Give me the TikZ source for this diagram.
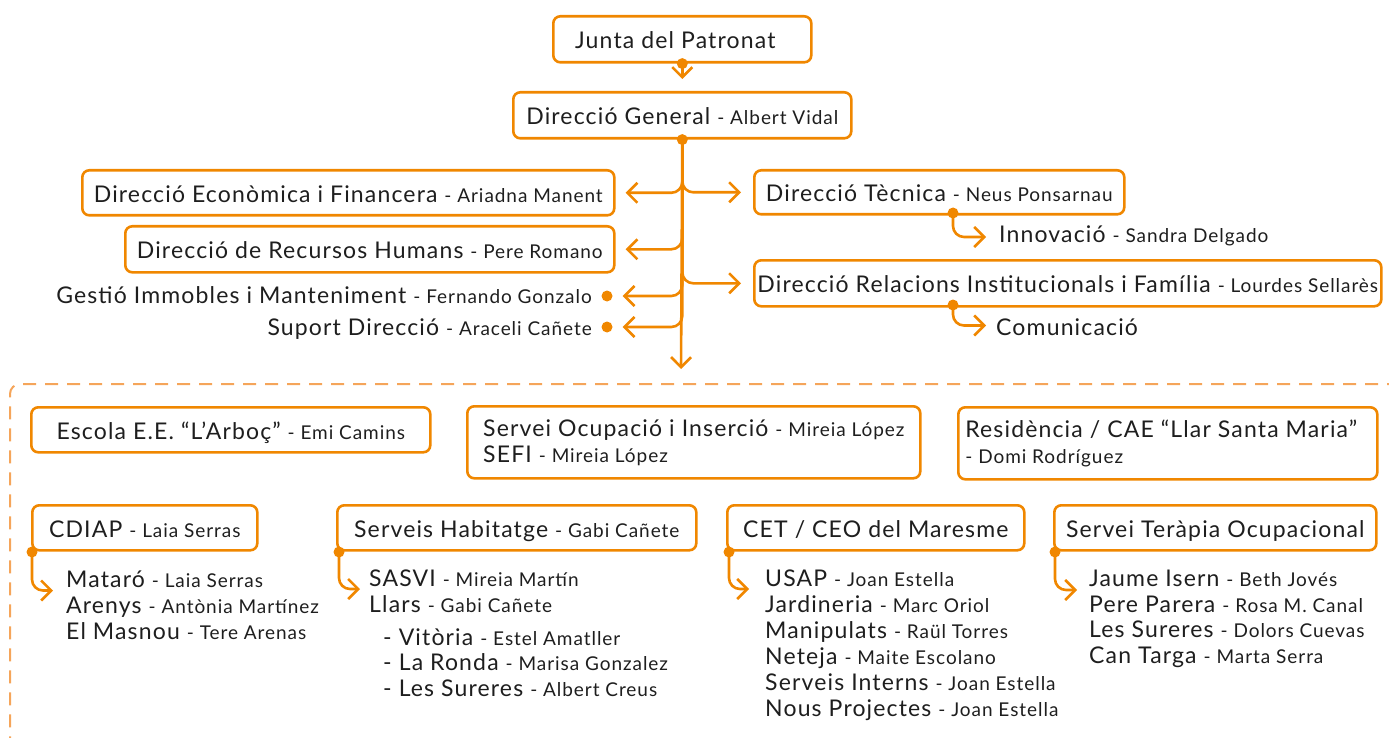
\documentclass[tikz,border=0pt]{standalone}
\usepackage{fontspec}
\setmainfont{Lato}[LetterSpace=5]
\usetikzlibrary{arrows.meta}
\definecolor{org}{RGB}{240,135,0}
\definecolor{orgl}{RGB}{245,165,90}
\definecolor{txt}{RGB}{30,30,30}
\newcommand\mn{\fontsize{23}{26}\selectfont}
\newcommand\sm[1]{{\fontsize{19}{26}\selectfont #1}}
\tikzset{
 box/.style={draw=org, line width=2.6pt, rounded corners=7pt, anchor=north west, inner sep=0pt, text=txt, font=\mn, text height=21pt, text depth=2pt},
 mbox/.style={draw=org, line width=2.6pt, rounded corners=7pt, anchor=north west, inner sep=0pt, text=txt, font=\mn, align=left},
 conn/.style={draw=org, line width=2.6pt, rounded corners=11pt, -{Straight Barb[length=10pt,width=20pt]}},
 odot/.style={circle, fill=org, inner sep=0pt, minimum size=11pt},
 lst/.style={anchor=base west, inner sep=0pt, text=txt, font=\mn, text height=21pt, text depth=2pt},
 lstr/.style={lst, anchor=base east},
}
\begin{document}
\begin{tikzpicture}[x=1pt,y=-1pt]
\useasboundingbox (0,0) rectangle (1389,738);
% dashed region
\draw[draw=orgl, line width=2pt, dash pattern=on 13pt off 9pt, rounded corners=10pt] (1400,384) -- (10,384) -- (10,750);
% top
\node[box, minimum width=258pt, minimum height=46pt] (junta) at (552,15) {Junta del Patronat\hspace*{14pt}};
\node[box, minimum width=338pt, minimum height=46pt] (dg) at (512,91) {Direcció General \sm{- Albert Vidal}};
\node[odot] (jdot) at (junta.south) {};
\node[odot] (dgdot) at (dg.south) {};
\draw[conn, shorten >=12pt] (jdot.center) -- (dg.north);
% left side
\node[box, minimum width=532pt, minimum height=45pt] (econ) at (81,169) {Direcció Econòmica i Financera \sm{- Ariadna Manent}};
\node[box, minimum width=489pt, minimum height=46pt] (rrhh) at (124,225) {Direcció de Recursos Humans \sm{- Pere Romano}};
\node[lstr] (gest) at (592,303) {Gestió Immobles i Manteniment \sm{- Fernando Gonzalo}};
\node[lstr] (sup) at (592,335) {Suport Direcció \sm{- Araceli Cañete}};
\node[odot] (gdot) at (607,296) {};
\node[odot] (sdot) at (607,327) {};
% right side
\node[box, minimum width=370pt, minimum height=44pt] (tec) at (753,169) {Direcció Tècnica \sm{- Neus Ponsarnau}};
\node[box, minimum width=627pt, minimum height=46pt] (rel) at (753,259) {Direcció Relacions Institucionals i Família \sm{- Lourdes Sellarès}};
\node[odot] (tdot) at (953,213) {};
\node[odot] (rdot) at (953,305) {};
\node[lst] (innov) at (999,243) {Innovació \sm{- Sandra Delgado}};
\node[lst] (com) at (996,335) {Comunicació};
% trunk and branches
\coordinate (tend) at (681,369);
\draw[conn] (dgdot.center) -- (tend);
\draw[conn, shorten >=10pt] (dgdot.center) |- (econ.east);
\draw[conn, shorten >=10pt] (dgdot.center) |- (rrhh.east);
\draw[conn, shorten >=10pt] (dgdot.center) |- (gdot.east);
\draw[conn, shorten >=10pt] (dgdot.center) |- (sdot.east);
\draw[conn, shorten >=12pt] (dgdot.center) |- (tec.west);
\draw[conn, shorten >=12pt] (dgdot.center) |- (rel.west);
\draw[conn, shorten >=13pt] (tdot.center) |- ([yshift=-3.5pt]innov.west);
\draw[conn, shorten >=10pt] (rdot.center) |- (com.west);
% lower boxes
\node[box, minimum width=399pt, minimum height=45pt] (esc) at (30,406) {Escola E.E. “L’Arboç” \sm{- Emi Camins}};
\node[mbox, minimum width=453pt, minimum height=72pt] (ocu) at (466,405) {Servei Ocupació i Inserció \sm{- Mireia López}\\SEFI \sm{- Mireia López}};
\node[mbox, minimum width=419pt, minimum height=72pt] (res) at (957,406) {Residència / CAE “Llar Santa Maria”\hspace*{13pt}\\\sm{- Domi Rodríguez}};
\node[box, minimum width=225pt, minimum height=45pt] (cdiap) at (31,504) {CDIAP \sm{- Laia Serras}};
\node[box, minimum width=359pt, minimum height=45pt] (hab) at (336,504) {Serveis Habitatge \sm{- Gabi Cañete}};
\node[box, minimum width=297pt, minimum height=45pt] (cet) at (726,504) {CET / CEO del Maresme};
\node[box, minimum width=322pt, minimum height=45pt] (ter) at (1053,504) {Servei Teràpia Ocupacional};
\node[odot] (cdot) at (32,552) {};
\node[odot] (hdot) at (339,552) {};
\node[odot] (cedot) at (729,552) {};
\node[odot] (tedot) at (1055,552) {};
% CDIAP list
\node[lst] (c1) at (66,587) {Mataró \sm{- Laia Serras}};
\node[lst] (c2) at (66,613) {Arenys \sm{- Antònia Martínez}};
\node[lst] (c3) at (66,639) {El Masnou \sm{- Tere Arenas}};
% Habitatge list
\node[lst] (h1) at (369,586) {SASVI \sm{- Mireia Martín}};
\node[lst] (h2) at (369,612) {Llars \sm{- Gabi Cañete}};
\node[lst] (h3) at (383,645) {- Vitòria \sm{- Estel Amatller}};
\node[lst] (h4) at (383,670) {- La Ronda \sm{- Marisa Gonzalez}};
\node[lst] (h5) at (383,696) {- Les Sureres \sm{- Albert Creus}};
% CET list
\node[lst] (e1) at (765,586) {USAP \sm{- Joan Estella}};
\node[lst] (e2) at (765,612) {Jardineria \sm{- Marc Oriol}};
\node[lst] (e3) at (765,638) {Manipulats \sm{- Raül Torres}};
\node[lst] (e4) at (765,664) {Neteja \sm{- Maite Escolano}};
\node[lst] (e5) at (765,690) {Serveis Interns \sm{- Joan Estella}};
\node[lst] (e6) at (765,716) {Nous Projectes \sm{- Joan Estella}};
% Terapia list
\node[lst] (t1) at (1089,586) {Jaume Isern \sm{- Beth Jovés}};
\node[lst] (t2) at (1089,612) {Pere Parera \sm{- Rosa M. Canal}};
\node[lst] (t3) at (1089,637) {Les Sureres \sm{- Dolors Cuevas}};
\node[lst] (t4) at (1089,663) {Can Targa \sm{- Marta Serra}};
% list connectors
\draw[conn, shorten >=13pt] (cdot.center) |- ([yshift=-13pt]c1.west);
\draw[conn, shorten >=9pt] (hdot.center) |- ([yshift=-12.5pt]h1.west);
\draw[conn, shorten >=16pt] (cedot.center) |- ([yshift=-12.5pt]e1.west);
\draw[conn, shorten >=12pt] (tedot.center) |- ([yshift=-13.5pt]t1.west);
\end{tikzpicture}
\end{document}
